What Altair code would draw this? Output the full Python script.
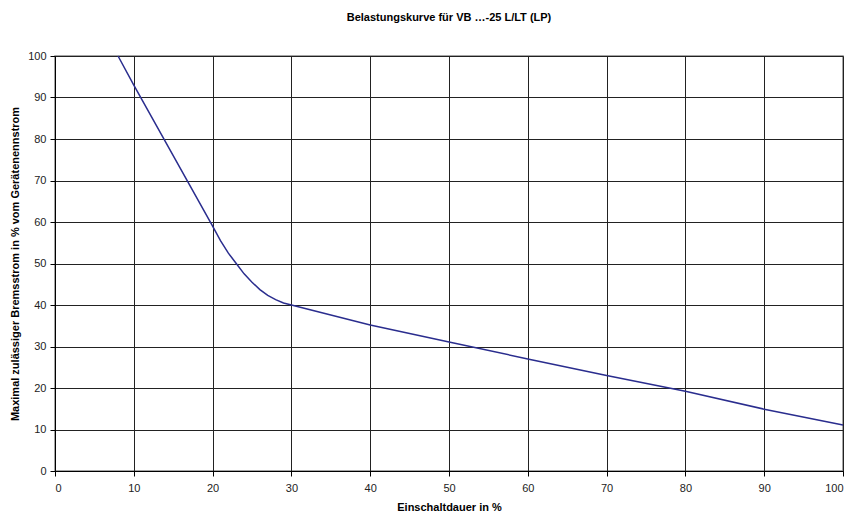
import altair as alt
import pandas as pd

einschaltdauer = [8, 10, 20, 21, 22, 23, 24, 25, 26, 27, 28, 29, 30, 40, 50, 60, 70, 80, 90, 100]
strom = [100, 93, 59, 55.5, 52.5, 50, 47.5, 45.5, 43.7, 42.3, 41.3, 40.5, 40, 35.2, 31.1, 27, 23, 19.2, 14.9, 11.1]

df = pd.DataFrame({"x": einschaltdauer, "y": strom})

FONT = "Liberation Sans"

line = alt.Chart(df).mark_line(color="#2A2D8E", strokeWidth=1.5).encode(
    x=alt.X("x:Q", scale=alt.Scale(domain=[0, 100], nice=False),
            axis=alt.Axis(title="Einschaltdauer in %", values=list(range(0, 101, 10)),
                          grid=True, gridColor="#222222", gridWidth=1,
                          domainColor="#000000", tickColor="#000000", tickSize=5,
                          labelPadding=6, titlePadding=8)),
    y=alt.Y("y:Q", scale=alt.Scale(domain=[0, 100], nice=False),
            axis=alt.Axis(title="Maximal zulässiger Bremsstrom in % vom Gerätenennstrom",
                          values=list(range(0, 101, 10)),
                          grid=True, gridColor="#222222", gridWidth=1,
                          domainColor="#000000", tickColor="#000000", tickSize=5,
                          labelPadding=4, titlePadding=7)),
)

chart = line.properties(
    width=788, height=415,
    autosize=alt.AutoSizeParams(type="none"),
    padding={"left": 47, "top": 48, "right": 10, "bottom": 40},
    title=alt.TitleParams("Belastungskurve für VB …-25 L/LT (LP)", anchor="middle",
                          fontSize=11, fontWeight="bold", font=FONT, color="#000000",
                          offset=27),
).configure_view(stroke="#888888", strokeWidth=1.5).configure_axis(
    labelFont=FONT, labelFontSize=11, labelColor="#222222",
    titleFont=FONT, titleFontSize=11, titleFontWeight="bold", titleColor="#000000",
)

chart.save("out.html", embed_options={"renderer": "svg", "actions": False})
